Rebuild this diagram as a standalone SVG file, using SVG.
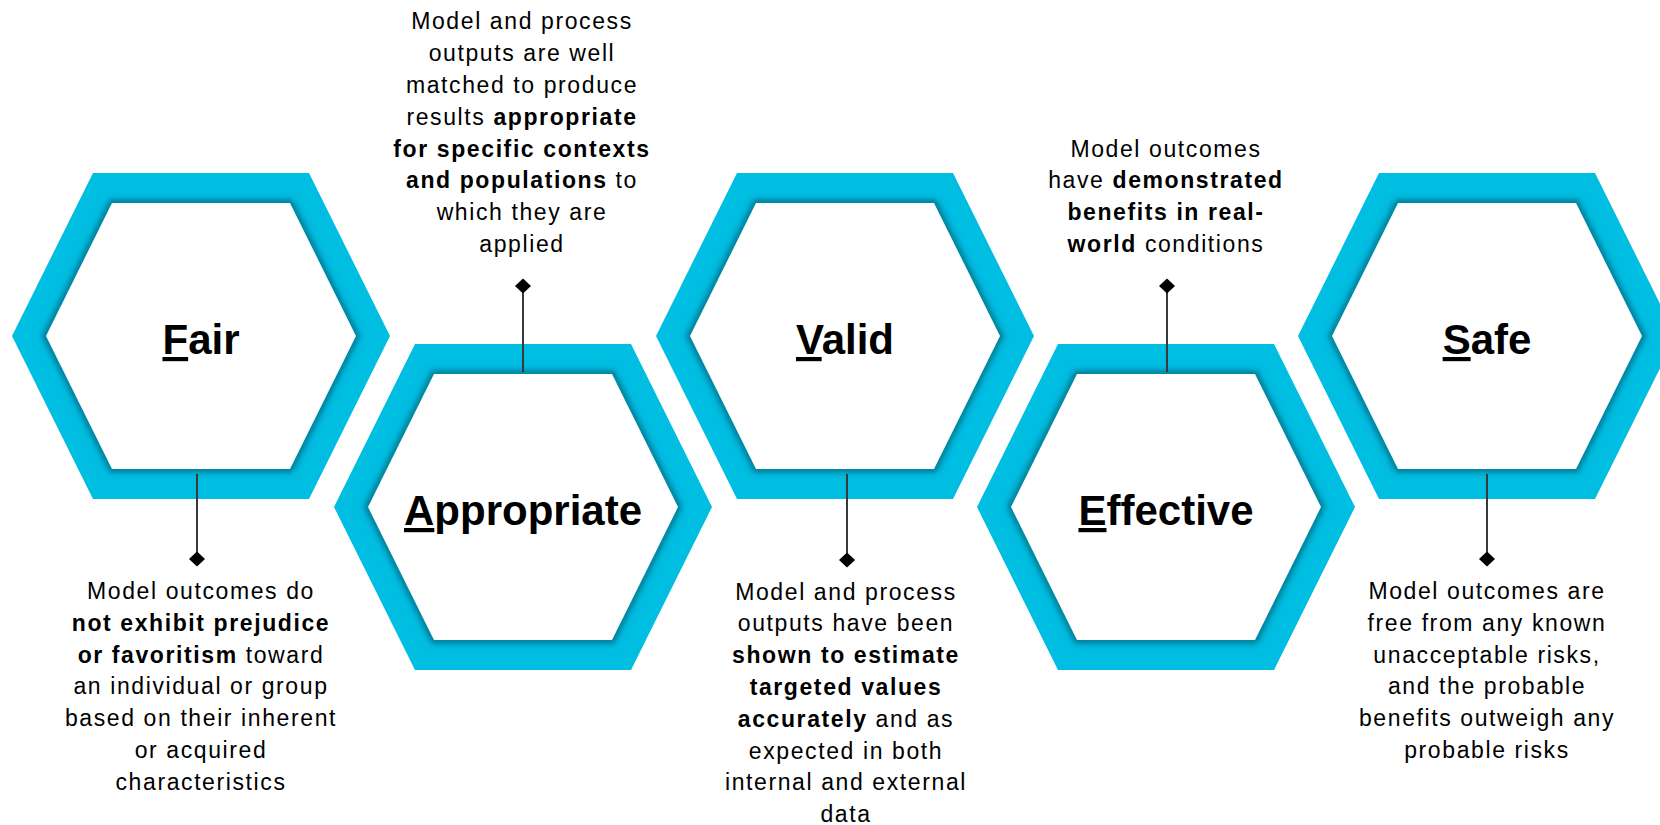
<svg xmlns="http://www.w3.org/2000/svg" xmlns:xlink="http://www.w3.org/1999/xlink" width="1660" height="825" viewBox="0 0 1660 825">
  <style>
    .band { fill: #00BDE2; }
    .shade { fill: none; stroke: #006a82; stroke-width: 6; }
    .core { fill: #ffffff; }
    .label { font-family: "Liberation Sans", Arial, sans-serif; font-size: 42px; font-weight: bold; fill: #000; text-anchor: middle; }
    .desc { font-family: "Liberation Sans", Arial, sans-serif; font-size: 23px; letter-spacing: 1.6px; fill: #000; text-anchor: middle; }
    .desc .b { font-weight: bold; }
    .lead { stroke: #3a3a3a; stroke-width: 2; fill: none; }
    .tip { fill: #000; }
  </style>
  <defs>
    <path id="hexOuter" d="M -108,-163 L 108,-163 L 189,0 L 108,163 L -108,163 L -189,0 Z"/>
    <path id="hexInner" d="M -89,-133 L 89,-133 L 155,0 L 89,133 L -89,133 L -155,0 Z"/>
    <filter id="soft" x="-20%" y="-20%" width="140%" height="140%">
      <feGaussianBlur stdDeviation="3"/>
    </filter>
    <g id="hexRing">
      <use xlink:href="#hexOuter" class="band"/>
      <use xlink:href="#hexInner" class="shade" filter="url(#soft)"/>
      <use xlink:href="#hexInner" class="core"/>
    </g>
    <polygon id="diamond" points="0,-7.5 8,0 0,7.5 -8,0" class="tip"/>
  </defs>

  <rect width="1660" height="825" fill="#ffffff"/>

  <!-- hexagon nodes -->
  <g id="node-fair" transform="translate(201,336)">
    <use xlink:href="#hexRing"/>
    <text class="label" x="0" y="18"><tspan text-decoration="underline">F</tspan>air</text>
  </g>
  <g id="node-appropriate" transform="translate(523,507)">
    <use xlink:href="#hexRing"/>
    <text class="label" x="0" y="18"><tspan text-decoration="underline">A</tspan>ppropriate</text>
  </g>
  <g id="node-valid" transform="translate(845,336)">
    <use xlink:href="#hexRing"/>
    <text class="label" x="0" y="18"><tspan text-decoration="underline">V</tspan>alid</text>
  </g>
  <g id="node-effective" transform="translate(1166,507)">
    <use xlink:href="#hexRing"/>
    <text class="label" x="0" y="18"><tspan text-decoration="underline">E</tspan>ffective</text>
  </g>
  <g id="node-safe" transform="translate(1487,336)">
    <use xlink:href="#hexRing"/>
    <text class="label" x="0" y="18"><tspan text-decoration="underline">S</tspan>afe</text>
  </g>

  <!-- leader lines with diamond ends -->
  <g id="connectors">
    <line class="lead" x1="197" y1="474" x2="197" y2="559"/>
    <use xlink:href="#diamond" x="197" y="559"/>
    <line class="lead" x1="523" y1="286" x2="523" y2="372"/>
    <use xlink:href="#diamond" x="523" y="286"/>
    <line class="lead" x1="847" y1="474" x2="847" y2="560"/>
    <use xlink:href="#diamond" x="847" y="560"/>
    <line class="lead" x1="1167" y1="286" x2="1167" y2="372"/>
    <use xlink:href="#diamond" x="1167" y="286"/>
    <line class="lead" x1="1487" y1="474" x2="1487" y2="559"/>
    <use xlink:href="#diamond" x="1487" y="559"/>
  </g>

  <!-- descriptions -->
  <g id="desc-fair">
    <text class="desc" x="201" y="599">Model outcomes do</text>
    <text class="desc" x="201" y="630.8"><tspan class="b">not exhibit prejudice</tspan></text>
    <text class="desc" x="201" y="662.6"><tspan class="b">or favoritism</tspan> toward</text>
    <text class="desc" x="201" y="694.4">an individual or group</text>
    <text class="desc" x="201" y="726.2">based on their inherent</text>
    <text class="desc" x="201" y="758">or acquired</text>
    <text class="desc" x="201" y="789.8">characteristics</text>
  </g>
  <g id="desc-appropriate">
    <text class="desc" x="522" y="29.4">Model and process</text>
    <text class="desc" x="522" y="61.2">outputs are well</text>
    <text class="desc" x="522" y="93">matched to produce</text>
    <text class="desc" x="522" y="124.8">results <tspan class="b">appropriate</tspan></text>
    <text class="desc" x="522" y="156.6"><tspan class="b">for specific contexts</tspan></text>
    <text class="desc" x="522" y="188.4"><tspan class="b">and populations</tspan> to</text>
    <text class="desc" x="522" y="220.2">which they are</text>
    <text class="desc" x="522" y="252">applied</text>
  </g>
  <g id="desc-valid">
    <text class="desc" x="846" y="599.5">Model and process</text>
    <text class="desc" x="846" y="631.3">outputs have been</text>
    <text class="desc" x="846" y="663.1"><tspan class="b">shown to estimate</tspan></text>
    <text class="desc" x="846" y="694.9"><tspan class="b">targeted values</tspan></text>
    <text class="desc" x="846" y="726.7"><tspan class="b">accurately</tspan> and as</text>
    <text class="desc" x="846" y="758.5">expected in both</text>
    <text class="desc" x="846" y="790.3">internal and external</text>
    <text class="desc" x="846" y="822.1">data</text>
  </g>
  <g id="desc-effective">
    <text class="desc" x="1166" y="156.6">Model outcomes</text>
    <text class="desc" x="1166" y="188.4">have <tspan class="b">demonstrated</tspan></text>
    <text class="desc" x="1166" y="220.2"><tspan class="b">benefits in real-</tspan></text>
    <text class="desc" x="1166" y="252"><tspan class="b">world</tspan> conditions</text>
  </g>
  <g id="desc-safe">
    <text class="desc" x="1487" y="599">Model outcomes are</text>
    <text class="desc" x="1487" y="630.8">free from any known</text>
    <text class="desc" x="1487" y="662.6">unacceptable risks,</text>
    <text class="desc" x="1487" y="694.4">and the probable</text>
    <text class="desc" x="1487" y="726.2">benefits outweigh any</text>
    <text class="desc" x="1487" y="758">probable risks</text>
  </g>
</svg>
